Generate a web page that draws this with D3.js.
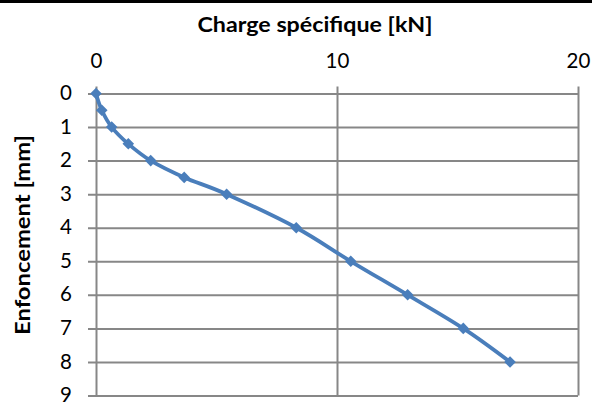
<!DOCTYPE html>
<html>
<head>
<meta charset="utf-8">
<script src="https://cdn.jsdelivr.net/npm/d3@7/dist/d3.min.js"></script>
<style>
  html, body { margin: 0; padding: 0; background: #fff; }
  svg { display: block; }
</style>
</head>
<body>
<svg id="chart" width="592" height="405"></svg>
<script>
// Penetration test: specific load vs. depth
const charge = [0, 0.24, 0.65, 1.34, 2.27, 3.66, 5.42, 8.31, 10.57, 12.93, 15.24, 17.18];
const enfoncement = [0, 0.5, 1, 1.5, 2, 2.5, 3, 4, 5, 6, 7, 8];
const xTicks = [0, 10, 20];
const yTicks = [0, 1, 2, 3, 4, 5, 6, 7, 8, 9];
const xTitle = "Charge spécifique [kN]";
const yTitle = "Enfoncement [mm]";

const W = 592, H = 405;
const plot = { left: 96, right: 578, top: 93.5, bottom: 395.5 };
const gridColor = "#878787";
const lineColor = "#4a7ebb";
const font = "Lato, 'Open Sans', 'DejaVu Sans', sans-serif";

const svg = d3.select("#chart");

// dark band along the top edge
svg.append("rect").attr("x", 0).attr("y", 0).attr("width", W).attr("height", 3).attr("fill", "#000");

const x = d3.scaleLinear().domain([0, 20]).range([plot.left, plot.right]);
const y = d3.scaleLinear().domain([0, 9]).range([plot.top, plot.bottom]);

// horizontal gridlines with left tick marks
const yAxis = d3.axisLeft(y).tickValues(yTicks)
  .tickSize(-(plot.right - plot.left)).tickPadding(24).tickFormat(d3.format("d"));
const gy = svg.append("g").attr("transform", `translate(${plot.left},0)`).call(yAxis);
gy.select(".domain").remove();
gy.selectAll(".tick line").attr("stroke", gridColor).attr("stroke-width", 2).attr("x1", -8);
gy.selectAll(".tick text").attr("font-family", font).attr("font-size", 20.5).attr("fill", "#000").attr("dy", "0.3em");

// vertical gridlines with top tick marks
const xAxis = d3.axisTop(x).tickValues(xTicks)
  .tickSize(-(plot.bottom - plot.top)).tickPadding(25.5).tickFormat(d3.format("d"));
const gx = svg.append("g").attr("transform", `translate(0,${plot.top})`).call(xAxis);
gx.select(".domain").remove();
gx.selectAll(".tick line").attr("stroke", gridColor).attr("stroke-width", 2).attr("y1", -7);
gx.selectAll(".tick text").attr("font-family", font).attr("font-size", 20.5).attr("fill", "#000");

// axis titles
svg.append("text")
  .attr("x", 315).attr("y", 31.5)
  .attr("text-anchor", "middle")
  .attr("font-family", font).attr("font-weight", "bold").attr("font-size", 21)
  .attr("textLength", 235).attr("lengthAdjust", "spacingAndGlyphs")
  .text(xTitle);

svg.append("text")
  .attr("transform", "translate(30,235) rotate(-90)")
  .attr("text-anchor", "middle")
  .attr("font-family", font).attr("font-weight", "bold").attr("font-size", 21)
  .attr("textLength", 200).attr("lengthAdjust", "spacingAndGlyphs")
  .text(yTitle);

// data series
const pts = charge.map((c, i) => [c, enfoncement[i]]);
const line = d3.line().x(d => x(d[0])).y(d => y(d[1])).curve(d3.curveCatmullRom.alpha(0));
svg.append("path").datum(pts)
  .attr("d", line)
  .attr("fill", "none").attr("stroke", lineColor).attr("stroke-width", 3.8)
  .attr("stroke-linejoin", "round");

const diamond = d3.symbol().type(d3.symbolDiamond2).size(85);
svg.append("g").selectAll("path").data(pts).join("path")
  .attr("transform", d => `translate(${x(d[0])},${y(d[1])})`)
  .attr("d", diamond)
  .attr("fill", lineColor);
</script>
</body>
</html>
